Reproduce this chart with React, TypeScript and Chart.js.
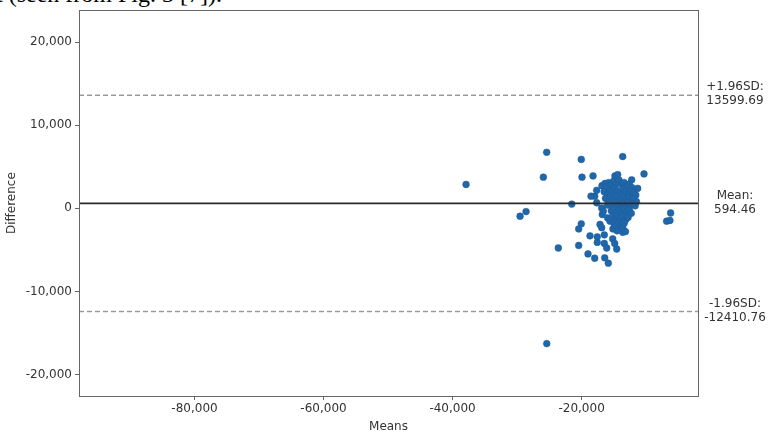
import React, { useEffect, useRef } from "react";
import { Chart, registerables } from "chart.js";

Chart.register(...registerables);

// Scattered points (means, differences)
const MEANS: number[] = [
  -25410, -20050, -13630, -37910, -25930, -19940, -18230, -10330, -12240, -11310,
  -21530, -28610, -29540, -6200, -6820, -6310, -20050, -20450, -23610, -20450,
  -18700, -19010, -17970, -16420, -15860, -17570, -17570, -16480, -16480, -16110,
  -15180, -14870, -14560, -15140, -13630, -17150, -16890, -16790, -16890, -16640,
  -15960, -15600, -17970, -17660, -17660, -18540, -16840, -16380, -14830, -14410,
  -25400,
  // dense cluster
  -16200, -15800, -15400, -15000, -14600, -14200, -13800, -13400, -13000, -12600, -12200,
  -16500, -16000, -15600, -15200, -14800, -14400, -14000, -13600, -13200, -12800, -12400, -12000, -11600,
  -16300, -15900, -15500, -15100, -14700, -14300, -13900, -13500, -13100, -12700, -12300, -11900, -11500,
  -16000, -15600, -15200, -14800, -14400, -14000, -13600, -13200, -12800, -12400, -12000, -11700,
  -15400, -15000, -14600, -14200, -13800, -13400, -13000, -12600, -12300,
  -15200, -14800, -14400, -14000, -13600, -13200, -12800,
  -15000, -14600, -14200, -13800, -13400, -14000, -14500, -13600, -13200,
];
const DIFFS: number[] = [
  6740, 5880, 6230, 2870, 3750, 3750, 3900, 4140, 3430, 2400,
  510, -390, -950, -560, -1540, -1460, -1860, -2480, -4770, -4460,
  -3310, -5480, -6000, -5950, -6590, -4100, -3430, -3190, -4220, -4770,
  -3670, -4220, -4890, -2480, -2880, -1930, -2330, -750, 40, -350,
  -1150, -1540, 1460, 2170, 670, 1460, 2720, 2990, 3900, 4060,
  -16270,
  // dense cluster
  2600, 3100, 2800, 3300, 3000, 3400, 2900, 3100, 2600, 2900, 2500,
  2000, 1700, 2200, 1900, 2400, 2100, 1800, 2300, 2000, 1700, 2100, 1900, 1600,
  1200, 900, 1400, 1100, 1500, 1200, 900, 1400, 1100, 1300, 900, 1200, 800,
  400, 600, 200, 700, 400, 100, 600, 300, 700, 400, 500, 300,
  -300, -100, -500, -200, -600, -100, -400, -200, -600,
  -1000, -1300, -900, -1200, -1000, -1400, -1100,
  -1800, -2100, -1700, -2000, -1800, -2500, -2700, -2400, -2800,
];

const MEAN_DIFF = 594.46;
const UPPER_LOA = 13599.69;
const LOWER_LOA = -12410.76;

const LOA_VALUES = [UPPER_LOA, MEAN_DIFF, LOWER_LOA];
const LOA_LABELS = [
  ["+1.96SD:", "13599.69"],
  ["Mean:", "594.46"],
  ["-1.96SD:", "-12410.76"],
];

const X_TICKS = [-80000, -60000, -40000, -20000];
const Y_TICKS = [20000, 10000, 0, -10000, -20000];
const X_MIN = -97900;
const X_MAX = -1960;
const Y_MIN = -22570;
const Y_MAX = 23830;

const X_TITLE = "Means";
const Y_TITLE = "Difference";
const CAPTION = "t (seen from Fig. 3 [7]).";

const FONT = "'DejaVu Sans', sans-serif";
const fmt = (v: number) => v.toLocaleString("en-US");

export default function App() {
  const ref = useRef<HTMLCanvasElement | null>(null);

  useEffect(() => {
    if (!ref.current) return;
    const framePlugin = {
      id: "frameAndLabels",
      afterDraw(chart: any) {
        const { ctx, chartArea } = chart;
        const { left, right, top, bottom } = chartArea;
        ctx.save();
        ctx.strokeStyle = "#666";
        ctx.lineWidth = 1;
        ctx.strokeRect(Math.round(left) + 0.5, Math.round(top) + 0.5, Math.round(right - left), Math.round(bottom - top));
        ctx.fillStyle = "#333";
        ctx.font = `12px ${FONT}`;
        ctx.textAlign = "center";
        ctx.textBaseline = "middle";
        const yScale = chart.scales.y;
        LOA_VALUES.forEach((v, i) => {
          const y = yScale.getPixelForValue(v);
          ctx.fillText(LOA_LABELS[i][0], 735, y - 8);
          ctx.fillText(LOA_LABELS[i][1], 735, y + 6);
        });
        ctx.restore();
      },
    };

    const points = MEANS.map((m, i) => ({ x: m, y: DIFFS[i] }));
    const hline = (v: number) => [
      { x: X_MIN, y: v },
      { x: X_MAX, y: v },
    ];

    const chart = new Chart(ref.current, {
      type: "scatter",
      data: {
        datasets: [
          {
            data: hline(MEAN_DIFF),
            showLine: true,
            borderColor: "#2b2b2b",
            borderWidth: 1.6,
            pointRadius: 0,
          } as any,
          {
            data: hline(UPPER_LOA),
            showLine: true,
            borderColor: "#9a9a9a",
            borderWidth: 1.5,
            borderDash: [5, 3],
            pointRadius: 0,
          } as any,
          {
            data: hline(LOWER_LOA),
            showLine: true,
            borderColor: "#9a9a9a",
            borderWidth: 1.5,
            borderDash: [5, 3],
            pointRadius: 0,
          } as any,
          {
            data: points,
            backgroundColor: "#1f67aa",
            borderColor: "#1f5c99",
            borderWidth: 0.5,
            pointRadius: 3.4,
          } as any,
        ],
      },
      options: {
        responsive: false,
        animation: false,
        devicePixelRatio: 1,
        layout: { padding: { left: 0, right: 73, top: 5, bottom: 0 } },
        plugins: { legend: { display: false }, tooltip: { enabled: false } },
        scales: {
          x: {
            type: "linear",
            min: X_MIN,
            max: X_MAX,
            afterBuildTicks: (s: any) => {
              s.ticks = X_TICKS.map((v) => ({ value: v }));
            },
            afterFit: (s: any) => {
              s.height = 38;
            },
            grid: { display: true, drawOnChartArea: false, drawTicks: true, tickLength: 4, color: "#666" },
            border: { display: true, color: "#666" },
            ticks: {
              color: "#333",
              font: { family: FONT, size: 12 },
              padding: 2,
              maxRotation: 0,
              callback: (v: any) => fmt(Number(v)),
            },
            title: {
              display: true,
              text: X_TITLE,
              color: "#333",
              font: { family: FONT, size: 12 },
              padding: { top: 0, bottom: 0 },
            },
          },
          y: {
            type: "linear",
            min: Y_MIN,
            max: Y_MAX,
            afterBuildTicks: (s: any) => {
              s.ticks = Y_TICKS.map((v) => ({ value: v }));
            },
            afterFit: (s: any) => {
              s.width = 79;
            },
            grid: { display: true, drawOnChartArea: false, drawTicks: true, tickLength: 4, color: "#666" },
            border: { display: true, color: "#666" },
            ticks: {
              color: "#333",
              font: { family: FONT, size: 12 },
              padding: 3,
              callback: (v: any) => fmt(Number(v)),
            },
            title: {
              display: true,
              text: Y_TITLE,
              color: "#333",
              font: { family: FONT, size: 12 },
              padding: { top: 5, bottom: 0 },
            },
          },
        },
      },
      plugins: [framePlugin],
    } as any);
    return () => chart.destroy();
  }, []);

  return (
    <div
      style={{
        position: "absolute",
        left: 0,
        top: 0,
        width: 771,
        height: 434,
        overflow: "hidden",
        background: "#fff",
      }}
    >
      <div
        style={{
          position: "absolute",
          left: -4,
          top: -19,
          fontFamily: "'Liberation Serif', serif",
          fontSize: 24,
          lineHeight: "27px",
          color: "#000",
          whiteSpace: "nowrap",
        }}
      >
        {CAPTION}
      </div>
      <canvas ref={ref} width={771} height={434} style={{ position: "absolute", left: 0, top: 0 }} />
    </div>
  );
}
